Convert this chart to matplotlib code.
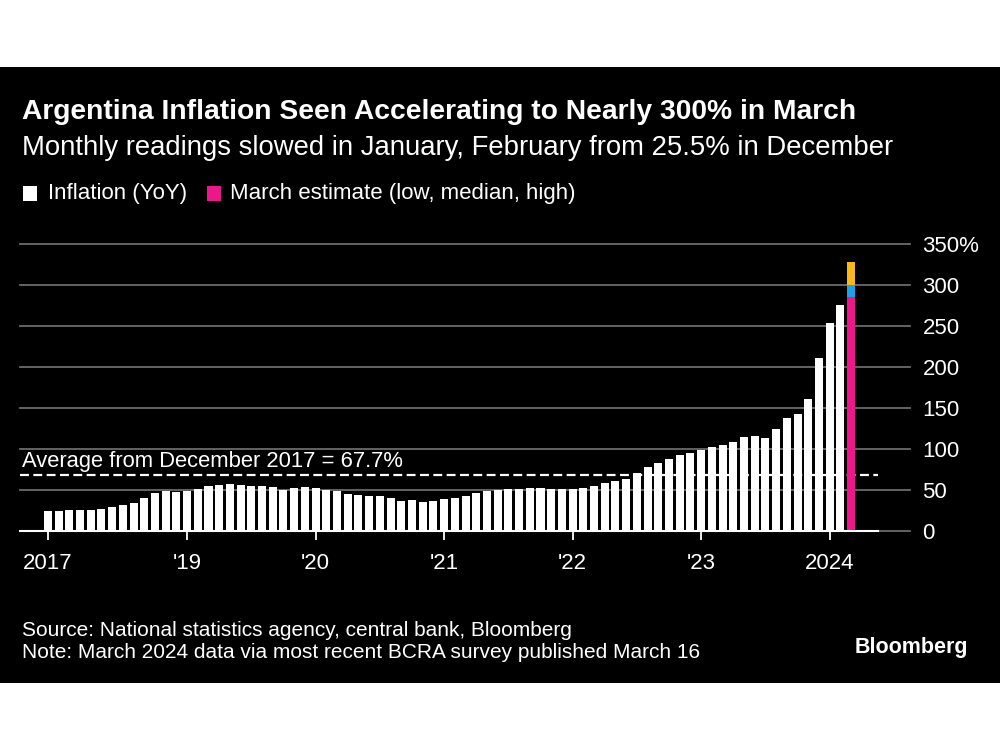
import matplotlib.pyplot as plt
import matplotlib.patches as mpatches
import numpy as np

plt.rcParams['font.family'] = ['Liberation Sans', 'DejaVu Sans']

# inflation YoY, monthly from Dec 2017 to Feb 2024
inflation = [24.8,
             25.0, 25.4, 25.4, 25.5, 26.3, 29.5, 31.2, 34.4, 40.5, 45.9, 48.5, 47.6,
             49.3, 51.3, 54.7, 55.8, 57.3, 55.8, 54.4, 54.5, 53.5, 50.5, 52.1, 53.8,
             52.9, 50.3, 48.4, 45.6, 43.4, 42.8, 42.4, 40.7, 36.6, 37.2, 35.8, 36.1,
             38.5, 40.7, 42.6, 46.3, 48.8, 50.2, 51.8, 51.4, 52.5, 52.1, 51.2, 50.9,
             50.7, 52.3, 55.1, 58.0, 60.7, 64.0, 71.0, 78.5, 83.0, 88.0, 92.4, 94.8,
             98.8, 102.5, 104.3, 108.8, 114.2, 115.6, 113.4, 124.4, 138.3, 142.7, 160.9, 211.4,
             254.2, 276.2]

# March 2024 survey estimate
march_low = 285.5
march_median = 300.0
march_high = 328.5

average = 67.7

tick_idx = [0, 13, 25, 37, 49, 61, 73]
tick_labels = ['2017', "'19", "'20", "'21", "'22", "'23", '2024']
y_ticks = [0, 50, 100, 150, 200, 250, 300, 350]
y_labels = ['0', '50', '100', '150', '200', '250', '300', '350%']

WHITE = '#ffffff'
MAGENTA = '#ec178b'
BLUE = '#1aa3e8'
YELLOW = '#f6b81a'
GRID = '#6b6b6b'

fig = plt.figure(figsize=(10, 7.5), dpi=100, facecolor='white')
# black card
fig.patches.append(mpatches.Rectangle((0, (750 - 683) / 750), 1, (683 - 67) / 750,
                                      transform=fig.transFigure, facecolor='black',
                                      edgecolor='none', zorder=-10))

ax = fig.add_axes([0.02, (750 - 531) / 750, 0.89, (531 - 244) / 750])
ax.set_facecolor('black')

x = np.arange(len(inflation))
ax.bar(x, inflation, width=0.75, color=WHITE, zorder=3)

xm = len(inflation)
ax.bar(xm, march_low, width=0.75, color=MAGENTA, zorder=3)
ax.bar(xm, march_median - march_low, bottom=march_low, width=0.75, color=BLUE, zorder=3)
ax.bar(xm, march_high - march_median, bottom=march_median, width=0.75, color=YELLOW, zorder=3)

ax.set_xlim(-2.6, 80.5)
ax.set_ylim(0, 350)

# gridlines
for v in y_ticks:
    ax.axhline(v, color=GRID, lw=1.3, zorder=1, clip_on=False)
ax.axhline(0, xmin=0, xmax=0.964, color=WHITE, lw=1.5, zorder=4, clip_on=False)
ax.axhline(average, xmin=0, xmax=0.964, color=WHITE, lw=1.6, ls=(0, (4, 2)), zorder=2)
ax.text(-2.4, average + 4, 'Average from December 2017 = 67.7%', color=WHITE,
        fontsize=15.8, ha='left', va='bottom')

for s in ax.spines.values():
    s.set_visible(False)

ax.yaxis.tick_right()
ax.set_yticks(y_ticks)
ax.set_yticklabels(y_labels)
ax.tick_params(axis='y', length=0, pad=9, labelsize=16, labelcolor=WHITE)
for lbl in ax.get_yticklabels():
    lbl.set_horizontalalignment('left')

ax.set_xticks(tick_idx)
ax.set_xticklabels(tick_labels)
ax.tick_params(axis='x', length=6.5, width=1.3, color=WHITE, pad=9,
               labelsize=16, labelcolor=WHITE)

# titles
fig.text(0.022, 1 - 112 / 750, 'Argentina Inflation Seen Accelerating to Nearly 300% in March',
         color=WHITE, fontsize=20.3, fontweight='bold', va='center', ha='left')
fig.text(0.022, 1 - 148 / 750, 'Monthly readings slowed in January, February from 25.5% in December',
         color=WHITE, fontsize=19.8, va='center', ha='left')

# legend
fig.patches.append(mpatches.Rectangle((0.023, 1 - 201 / 750), 0.014, 15 / 750,
                                      transform=fig.transFigure, facecolor=WHITE))
fig.text(0.048, 1 - 193 / 750, 'Inflation (YoY)', color=WHITE, fontsize=16,
         va='center', ha='left')
fig.patches.append(mpatches.Rectangle((0.207, 1 - 201 / 750), 0.014, 15 / 750,
                                      transform=fig.transFigure, facecolor=MAGENTA))
fig.text(0.230, 1 - 193 / 750, 'March estimate (low, median, high)', color=WHITE,
         fontsize=16, va='center', ha='left')

# footer
fig.text(0.022, 1 - 630 / 750, 'Source: National statistics agency, central bank, Bloomberg',
         color=WHITE, fontsize=15, va='center', ha='left')
fig.text(0.022, 1 - 653 / 750, 'Note: March 2024 data via most recent BCRA survey published March 16',
         color=WHITE, fontsize=15, va='center', ha='left')
fig.text(0.968, 1 - 648 / 750, 'Bloomberg', color=WHITE, fontsize=15.5, fontweight='heavy',
         va='center', ha='right')

fig.savefig('out.png', dpi=100, facecolor='white')
